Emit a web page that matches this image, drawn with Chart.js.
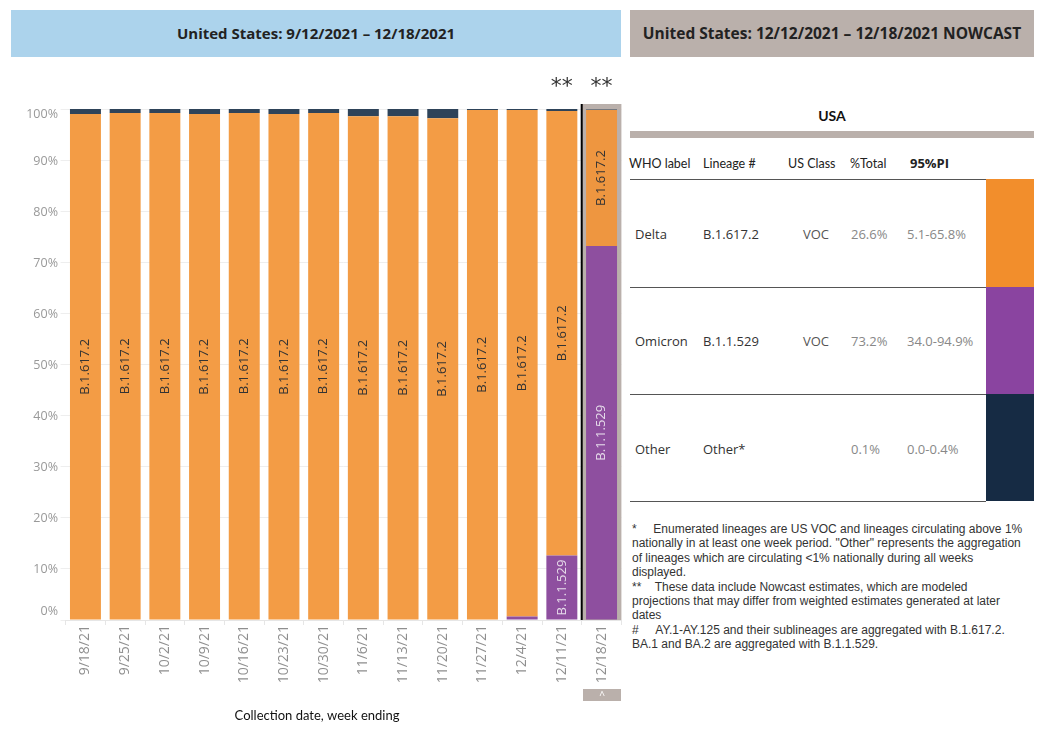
<!DOCTYPE html>
<html>
<head>
<meta charset="utf-8">
<script src="https://cdn.jsdelivr.net/npm/chart.js@4/dist/chart.umd.min.js"></script>
<style>
  body { margin: 0; width: 1054px; height: 730px; background: #fff; overflow: hidden; position: relative; font-family: "Open Sans", sans-serif; }
  .abs { position: absolute; white-space: nowrap; }
  .banner { position: absolute; top: 10px; height: 47px; line-height: 47px; text-align: center; font-weight: bold; font-size: 15px; color: #222; }
  .hdr { font-family: Lato, sans-serif; font-size: 12.5px; color: #222; top: 156px; }
  .cell { font-size: 13px; }
  .rule { position: absolute; left: 630px; width: 356px; height: 1px; background: #555; }
  .swatch { position: absolute; left: 986px; width: 48px; }
  #notes { position: absolute; left: 632px; top: 522px; font-family: "Liberation Sans", Arial, sans-serif; font-size: 12px; line-height: 14.4px; color: #333; white-space: nowrap; }
</style>
</head>
<body>
<div class="banner" style="left:11px;width:610px;background:#acd3ec;">United States: 9/12/2021 – 12/18/2021</div>
<div class="banner" style="left:630px;width:404px;background:#bab0ab;font-size:15.5px;">United States: 12/12/2021 – 12/18/2021 NOWCAST</div>

<div style="position:absolute;left:0;top:60px;width:625px;height:670px;">
  <canvas id="chart-variants"></canvas>
</div>
<div class="abs" style="left:583px;top:689px;width:38px;height:12px;background:#bab0ab;color:#fff;font-size:10px;line-height:12px;text-align:center;">^</div>

<!-- nowcast table -->
<div class="abs" style="left:630px;top:107px;width:404px;text-align:center;font-family:Lato,sans-serif;font-weight:bold;font-size:14px;color:#111;">USA</div>
<div class="abs" style="left:630px;top:131px;width:404px;height:7px;background:#bab0ab;"></div>
<div class="abs hdr" style="left:629px;">WHO label</div>
<div class="abs hdr" style="left:703px;">Lineage #</div>
<div class="abs hdr" style="left:788px;">US Class</div>
<div class="abs hdr" style="left:850px;">%Total</div>
<div class="abs hdr" style="left:910px;font-family:'Open Sans',sans-serif;font-weight:bold;font-size:13px;top:154px;">95%PI</div>
<div class="rule" style="top:179px;"></div>
<div class="rule" style="top:287px;"></div>
<div class="rule" style="top:394px;"></div>
<div class="rule" style="top:501px;"></div>
<div class="swatch" style="top:179px;height:108px;background:#f28e2c;"></div>
<div class="swatch" style="top:287px;height:107px;background:#8a44a0;"></div>
<div class="swatch" style="top:394px;height:107px;background:#162b44;"></div>
<div id="rows"></div>

<div id="notes">
*&nbsp;&nbsp;&nbsp;&nbsp;&nbsp;Enumerated lineages are US VOC and lineages circulating above 1%<br>
nationally in at least one week period. "Other" represents the aggregation<br>
of lineages which are circulating &lt;1% nationally during all weeks<br>
displayed.<br>
**&nbsp;&nbsp;&nbsp;&nbsp;These data include Nowcast estimates, which are modeled<br>
projections that may differ from weighted estimates generated at later<br>
dates<br>
#&nbsp;&nbsp;&nbsp;&nbsp;&nbsp;AY.1-AY.125 and their sublineages are aggregated with B.1.617.2.<br>
BA.1 and BA.2 are aggregated with B.1.1.529.
</div>

<script>
// weekly proportions (%), week ending
const weeks = ["9/18/21", "9/25/21", "10/2/21", "10/9/21", "10/16/21", "10/23/21", "10/30/21",
  "11/6/21", "11/13/21", "11/20/21", "11/27/21", "12/4/21", "12/11/21", "12/18/21"];
const omicronPct = [0, 0, 0, 0, 0, 0, 0, 0, 0, 0, 0, 0.7, 12.6, 73.2];
const deltaPct = [99.0, 99.2, 99.2, 99.0, 99.2, 99.0, 99.2, 98.6, 98.6, 98.2, 99.8, 99.1, 87.0, 26.6];
const otherPct = [1.0, 0.8, 0.8, 1.0, 0.8, 1.0, 0.8, 1.4, 1.4, 1.8, 0.2, 0.2, 0.4, 0.1];
const yTicks = [0, 10, 20, 30, 40, 50, 60, 70, 80, 90, 100];
const xTitle = "Collection date, week ending";

// nowcast table rows
const tableWho = ["Delta", "Omicron", "Other"];
const tableLineage = ["B.1.617.2", "B.1.1.529", "Other*"];
const tableClass = ["VOC", "VOC", ""];
const tableTotal = ["26.6%", "73.2%", "0.1%"];
const tablePI = ["5.1-65.8%", "34.0-94.9%", "0.0-0.4%"];

const rowMid = [234, 341, 449];
const rowsEl = document.getElementById("rows");
tableWho.forEach((who, i) => {
  const top = rowMid[i] - 9;
  const cells = [
    [635, who, "#333"],
    [703, tableLineage[i], "#333"],
    [803, tableClass[i], "#555"],
    [851, tableTotal[i], "#888"],
    [907, tablePI[i], "#888"],
  ];
  cells.forEach(([left, text, color]) => {
    const d = document.createElement("div");
    d.className = "abs cell";
    d.style.left = left + "px";
    d.style.top = top + "px";
    d.style.color = color;
    d.textContent = text;
    rowsEl.appendChild(d);
  });
});

const orange = weeks.map((w, i) => i === weeks.length - 1 ? "#ee9640" : "#f39c45");

// grey nowcast frame behind the last bar + divider line, "**" marks, axis text
const nowcastFrame = {
  id: "nowcastFrame",
  beforeDatasetsDraw(chart) {
    const { ctx, chartArea, scales } = chart;
    const x = scales.x;
    const last = weeks.length - 1;
    const w = x.getPixelForValue(1) - x.getPixelForValue(0);
    const x0 = x.getPixelForValue(last) - w / 2;
    ctx.save();
    ctx.fillStyle = "#bab0ab";
    ctx.fillRect(x0, chartArea.top - 5, w, chartArea.bottom - chartArea.top + 5);
    ctx.fillStyle = "#000";
    ctx.fillRect(x0 - 1, chartArea.top - 5, 2, chartArea.bottom - chartArea.top + 5);
    ctx.restore();
  },
  afterDraw(chart) {
    const { ctx, chartArea, scales } = chart;
    ctx.save();
    ctx.fillStyle = "#333";
    ctx.font = "22px 'DejaVu Sans'";
    ctx.textAlign = "center";
    ctx.textBaseline = "middle";
    [weeks.length - 2, weeks.length - 1].forEach((i) => {
      ctx.fillText("**", scales.x.getPixelForValue(i), chartArea.top - 22);
    });

    // y labels: Tableau keeps the end labels inside the axis range
    ctx.font = "12.5px 'Open Sans'";
    ctx.fillStyle = "#999";
    ctx.textAlign = "right";
    yTicks.forEach((v) => {
      const y = scales.y.getPixelForValue(v);
      if (v === 100) { ctx.textBaseline = "top"; ctx.fillText(v + "%", 58, y - 1); }
      else if (v === 0) { ctx.textBaseline = "bottom"; ctx.fillText(v + "%", 58, y - 2); }
      else { ctx.textBaseline = "middle"; ctx.fillText(v + "%", 58, y + 1); }
    });

    // x-axis title, centred on the whole sheet width
    ctx.font = "13px Lato";
    ctx.fillStyle = "#111";
    ctx.textAlign = "center";
    ctx.textBaseline = "middle";
    ctx.fillText(xTitle, 317, 656);
    ctx.restore();
  },
};

// lineage names written up the middle of big segments
const segmentLabels = {
  id: "segmentLabels",
  afterDatasetsDraw(chart) {
    const { ctx } = chart;
    ctx.save();
    ctx.font = "13px 'Open Sans'";
    ctx.textAlign = "center";
    ctx.textBaseline = "middle";
    chart.data.datasets.forEach((ds, di) => {
      if (!ds.segLabel) return;
      chart.getDatasetMeta(di).data.forEach((el) => {
        const h = Math.abs(el.base - el.y);
        if (h < 60) return;
        ctx.save();
        ctx.translate(el.x, (el.y + el.base) / 2);
        ctx.rotate(-Math.PI / 2);
        ctx.fillStyle = ds.segColor;
        ctx.fillText(ds.segLabel, 0, 0);
        ctx.restore();
      });
    });
    ctx.restore();
  },
};

new Chart(document.getElementById("chart-variants"), {
  type: "bar",
  data: {
    labels: weeks,
    datasets: [
      { label: "B.1.1.529", data: omicronPct, backgroundColor: "#8e4f9f", segLabel: "B.1.1.529", segColor: "#e6dcea" },
      { label: "B.1.617.2", data: deltaPct, backgroundColor: orange, segLabel: "B.1.617.2", segColor: "#333" },
      { label: "Other", data: otherPct, backgroundColor: "#2e4359" },
    ],
  },
  options: {
    responsive: true,
    maintainAspectRatio: false,
    animation: false,
    layout: { padding: { top: 49, right: 3.6, left: 0, bottom: 0 } },
    datasets: { bar: { barPercentage: 0.78, categoryPercentage: 1 } },
    plugins: { legend: { display: false }, tooltip: { enabled: false } },
    scales: {
      x: {
        stacked: true,
        grid: { drawOnChartArea: false, color: "#e6e6e6", tickLength: 5 },
        border: { color: "#e6e6e6" },
        ticks: { font: { family: "'Open Sans', sans-serif", size: 14 }, color: "#8f8f8f", minRotation: 90, maxRotation: 90, padding: 0 },
        afterFit: (s) => { s.height = 110; },
      },
      y: {
        stacked: true,
        min: 0,
        max: 100,
        afterBuildTicks: (s) => { s.ticks = yTicks.map((v) => ({ value: v })); },
        grid: { color: "#eeeeee", tickLength: 5 },
        border: { display: false },
        ticks: { display: false },
        afterFit: (s) => { s.width = 65.6; },
      },
    },
  },
  plugins: [nowcastFrame, segmentLabels],
});
</script>
</body>
</html>
